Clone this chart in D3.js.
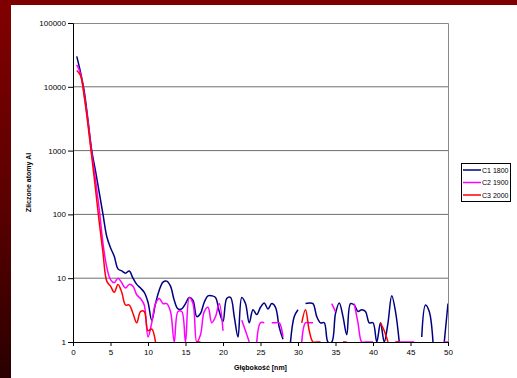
<!DOCTYPE html>
<html>
<head>
<meta charset="utf-8">
<script src="https://cdn.jsdelivr.net/npm/d3@7"></script>
<style>
  body { margin: 0; background: #fff; }
  svg { display: block; font-family: "Liberation Sans", Arial, sans-serif; }
</style>
</head>
<body>
<div id="chart"></div>
<script>
// depth in nm, one sample every 0.5 nm
const depth = [
  0.5, 1, 1.5, 2, 2.5, 3, 3.5, 4, 4.5, 5, 5.5, 6, 6.5, 7, 7.5, 8, 8.5, 9, 9.5, 10,
  10.5, 11, 11.5, 12, 12.5, 13, 13.5, 14, 14.5, 15, 15.5, 16, 16.5, 17, 17.5, 18, 18.5, 19, 19.5, 20,
  20.5, 21, 21.5, 22, 22.5, 23, 23.5, 24, 24.5, 25, 25.5, 26, 26.5, 27, 27.5, 28, 28.5, 29, 29.5, 30,
  30.5, 31, 31.5, 32, 32.5, 33, 33.5, 34, 34.5, 35, 35.5, 36, 36.5, 37, 37.5, 38, 38.5, 39, 39.5, 40,
  40.5, 41, 41.5, 42, 42.5, 43, 43.5, 44, 44.5, 45, 45.5, 46, 46.5, 47, 47.5, 48, 48.5, 49, 49.5, 50
]

// counts, null = zero (not drawn on log axis)
const c1 = [
  30000, 17000, 8500, 3000, 1000, 480, 220, 100, 45, 30, 22, 14, 13, 12, 13, 10, 8, 7, 6, 4.2,
  2.2, 4, 6.5, 8.7, 9, 7.5, 4.5, 3.3, 3.3, 4, 5, 4.5, 2.5, 2.8, 4.2, 5.3, 5.3, 5, 3, 2.1,
  4.8, 5, 2.5, 1.2, 5, 4, 2, 3.2, 2.7, 3.5, 4.1, 3.3, 4, 3.5, 1.7, 1.1, null, 1, 2.5, 3.2,
  null, 4, 4.1, 4, 2.5, 2, 2, 1, 1, 2.8, 4.1, 2.5, 1.3, 4, 3.8, 3, 3.2, 3, 2, 2,
  1, 2, 1, 2, 5.3, 3, 1, null, null, null, null, null, 1.2, 3.8, 3, 1, null, null, 1, 4
]
const c2 = [
  22000, 16000, 7500, 2800, 900, 350, 120, 35, 15, 9.5, 8.5, 10, 8.5, 7, 8, 7.5, 5.5, 4.8, 3.8, 1.2,
  2, 4, 4.8, 4, 4, 3, 1, 3, 3, 1, 5, 4, 1, 1.3, 3, 3.5, 2, 2.5, 4, 1.5,
  null, null, null, null, 2.2, 1.5, 1, null, 1, 2, 2, null, 2, 2, 2, 1.2, null, null, null, null,
  1, 2, 2, 2, null, null, null, null, 4, 3, null, null, null, null, 4, 2, 1, 1, 1, 1,
  null, null, null, null, null, 1, 1, 1, 1, 1, 1, null, null, null, null, null, null, null, 1, 1
]
const c3 = [
  18000, 15000, 7000, 2500, 800, 250, 75, 25, 9, 7.5, 6, 8, 6, 3.8, 3.8, 2.8, 2, 3, 3, 1.5,
  1.6, 1, null, null, null, null, null, null, null, null, null, null, 1, 1, null, null, null, null, null, null,
  null, null, null, null, null, null, null, null, null, null, null, null, null, null, null, null, null, null, null, null,
  2, 3.2, 1.5, 1, 1, 1, null, null, null, null, null, 1, 1, null, null, null, null, null, null, null,
  null, 2, 1.5, 1, null, 1, 1, null, null, null, null, null, null, null, null, null, null, null, null, null
]

const seriesNames = ["C1 1800", "C2 1900", "C3 2000"]
const seriesColors = ["#000080", "#ff00ff", "#ff0000"]
const yTicks = [1, 10, 100, 1000, 10000, 100000]
const xTicks = [0, 5, 10, 15, 20, 25, 30, 35, 40, 45, 50]

const width = 517
const height = 378
const plot = {left: 73, right: 448, top: 23, bottom: 342}

const svg = d3.select("#chart").append("svg")
  .attr("width", width)
  .attr("height", height)

// slide background
const defs = svg.append("defs")
const grad = defs.append("linearGradient")
  .attr("id", "strip")
  .attr("x1", 0).attr("y1", 0).attr("x2", 0).attr("y2", 1)
grad.append("stop").attr("offset", "0%").attr("stop-color", "#820000")
grad.append("stop").attr("offset", "55%").attr("stop-color", "#5a0000")
grad.append("stop").attr("offset", "100%").attr("stop-color", "#2a0000")

svg.append("rect").attr("width", width).attr("height", height).attr("fill", "url(#strip)")
svg.append("rect").attr("x", 0).attr("y", 0).attr("width", width).attr("height", 5).attr("fill", "#7f0000")
svg.append("rect").attr("x", 11).attr("y", 5).attr("width", width - 11).attr("height", height - 5).attr("fill", "#fff")

defs.append("clipPath").attr("id", "plotclip")
  .append("rect")
  .attr("x", plot.left).attr("y", plot.top - 2)
  .attr("width", plot.right - plot.left).attr("height", plot.bottom - plot.top + 2)

const x = d3.scaleLinear().domain([0, 50]).range([plot.left, plot.right])
const y = d3.scaleLog().domain([1, 100000]).range([plot.bottom, plot.top])

// grid
svg.append("g")
  .selectAll("line")
  .data(yTicks.slice(1, -1))
  .join("line")
  .attr("x1", plot.left).attr("x2", plot.right)
  .attr("y1", d => y(d)).attr("y2", d => y(d))
  .attr("stroke", "#6e6e6e")
  .attr("stroke-width", 1)

// plot frame (top and right)
svg.append("path")
  .attr("d", `M${plot.left},${plot.top + 0.5}H${plot.right + 0.5}V${plot.bottom}`)
  .attr("fill", "none")
  .attr("stroke", "#8a8a8a")
  .attr("stroke-width", 1)

// series
const line = d3.line()
  .defined(d => d[1] != null)
  .x(d => x(d[0]))
  .y(d => y(d[1]))
  .curve(d3.curveCatmullRom.alpha(0.5))

const lines = svg.append("g").attr("clip-path", "url(#plotclip)")
;[c1, c2, c3].forEach((values, i) => {
  lines.append("path")
    .datum(depth.map((d, j) => [d, values[j]]))
    .attr("fill", "none")
    .attr("stroke", seriesColors[i])
    .attr("stroke-width", 1.5)
    .attr("stroke-linejoin", "round")
    .attr("d", line)
})

// axes
const yAxis = svg.append("g")
  .attr("transform", `translate(${plot.left},0)`)
  .call(d3.axisLeft(y).tickValues(yTicks).tickFormat(d3.format("d")).tickSize(5).tickPadding(2))
yAxis.select(".domain").attr("stroke", "#000")
yAxis.selectAll("text").attr("font-size", 8).attr("fill", "#000").attr("font-family", "Liberation Sans, Arial, sans-serif")

const xAxis = svg.append("g")
  .attr("transform", `translate(0,${plot.bottom})`)
  .call(d3.axisBottom(x).tickValues(xTicks).tickSize(4).tickPadding(3))
xAxis.select(".domain").attr("stroke", "#000")
xAxis.selectAll("text").attr("font-size", 8).attr("fill", "#000").attr("font-family", "Liberation Sans, Arial, sans-serif")

// axis titles
svg.append("text")
  .attr("x", (plot.left + plot.right) / 2)
  .attr("y", 370)
  .attr("text-anchor", "middle")
  .attr("font-size", 7)
  .attr("font-weight", "bold")
  .text("Głębokość [nm]")

svg.append("text")
  .attr("transform", `translate(31,${(plot.top + plot.bottom) / 2}) rotate(-90)`)
  .attr("text-anchor", "middle")
  .attr("font-size", 7)
  .attr("font-weight", "bold")
  .text("Zliczone atomy Al")

// legend
const legend = svg.append("g")
legend.append("rect")
  .attr("x", 461.5).attr("y", 163.5)
  .attr("width", 49).attr("height", 38)
  .attr("fill", "#fff")
  .attr("stroke", "#000")
  .attr("stroke-width", 1)

seriesNames.forEach((name, i) => {
  const ly = 170 + i * 12.5
  legend.append("line")
    .attr("x1", 463).attr("x2", 481)
    .attr("y1", ly).attr("y2", ly)
    .attr("stroke", seriesColors[i])
    .attr("stroke-width", 1.5)
  legend.append("text")
    .attr("x", 482)
    .attr("y", ly + 2.5)
    .attr("font-size", 7)
    .text(name)
})
</script>
</body>
</html>
